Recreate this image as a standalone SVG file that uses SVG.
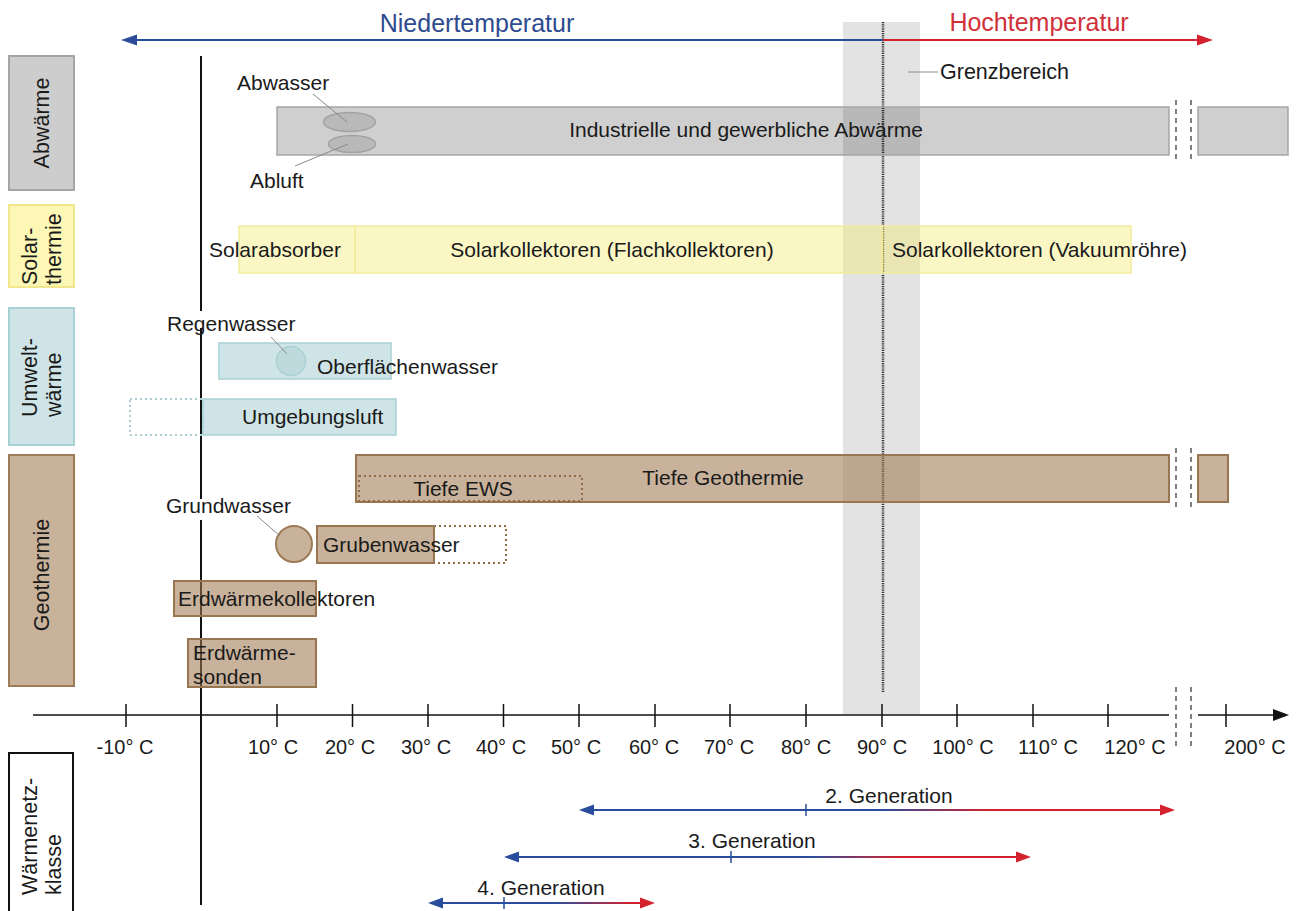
<svg xmlns="http://www.w3.org/2000/svg" width="1296" height="911" viewBox="0 0 1296 911">
<defs>
<style>
text{font-family:"Liberation Sans",Arial,sans-serif;fill:#1a1a1a}
.t{font-size:21px}
.ax{font-size:20px}
.side{font-size:21.5px}
.gen{font-size:21px}
.ab{fill:#000;fill-opacity:0.19;stroke:#a6a6a6;stroke-width:1.5}
.so{fill:#f6ea6e;fill-opacity:0.4;stroke:#f3ec9e;stroke-width:1.5}
.uw{fill:#cfe4e6;stroke:#a9d0d5;stroke-width:1.5}
.ge{fill:#a07850;fill-opacity:0.57;stroke:#987651;stroke-width:2}
.dotU{fill:none;stroke:#a9cdd2;stroke-width:2;stroke-dasharray:2 3}
.dotG{fill:none;stroke:#8f6c47;stroke-width:2;stroke-dasharray:2 3}
.lead{stroke:#8a8a8a;stroke-width:1;fill:none}
.brk{stroke:#555;stroke-width:1.5;stroke-dasharray:5 4}
.tick{stroke:#111;stroke-width:1.5}
</style>
<linearGradient id="g2" gradientUnits="userSpaceOnUse" x1="880" y1="0" x2="990" y2="0"><stop offset="0" stop-color="#2a4c9c"/><stop offset="1" stop-color="#d3222e"/></linearGradient>
<linearGradient id="g3" gradientUnits="userSpaceOnUse" x1="810" y1="0" x2="900" y2="0"><stop offset="0" stop-color="#2a4c9c"/><stop offset="1" stop-color="#d3222e"/></linearGradient>
<linearGradient id="g4" gradientUnits="userSpaceOnUse" x1="555" y1="0" x2="630" y2="0"><stop offset="0" stop-color="#2a4c9c"/><stop offset="1" stop-color="#d3222e"/></linearGradient>
</defs>
<rect width="1296" height="911" fill="#fff"/>

<!-- Grenzbereich band -->
<g id="grenzbereich">
<rect x="843" y="22" width="77" height="692" fill="#e3e3e3"/>
<line x1="883" y1="22" x2="883" y2="692" stroke="#3a3a3a" stroke-width="2.5" stroke-dasharray="1.2 1"/>
<line class="lead" x1="908" y1="72" x2="938" y2="72"/>
<text x="940" y="79" style="font-size:21.5px">Grenzbereich</text>
</g>

<!-- top arrow -->
<g id="temperatur">
<line x1="134" y1="40" x2="883" y2="40" stroke="#2a4c9c" stroke-width="2"/>
<polygon points="121,40 137,34.5 137,45.5" fill="#2a4c9c"/>
<line x1="883" y1="40" x2="1200" y2="40" stroke="#d3222e" stroke-width="2"/>
<polygon points="1213,40 1197,34.5 1197,45.5" fill="#d3222e"/>
<text x="477" y="32" text-anchor="middle" style="font-size:25px;fill:#2e4b8f">Niedertemperatur</text>
<text x="1039" y="31" text-anchor="middle" style="font-size:25px;fill:#d0303a">Hochtemperatur</text>
</g>

<!-- vertical zero line -->
<g id="nulllinie" stroke="#111" stroke-width="2">
<line x1="201" y1="56" x2="201" y2="311"/>
<line x1="201" y1="328" x2="201" y2="499"/>
<line x1="201" y1="520" x2="201" y2="905"/>
</g>

<!-- side labels -->
<g id="label-abwaerme">
<rect x="9" y="56" width="65" height="134" fill="#cdcdcd" stroke="#a5a5a5" stroke-width="2"/>
<text class="side" transform="translate(41.5,123) rotate(-90)" text-anchor="middle" dy="0.36em">Abwärme</text>
</g>
<g id="label-solar">
<rect x="9" y="205" width="65" height="82" fill="#fdf7b5" stroke="#f1e68c" stroke-width="2"/>
<text class="side" transform="translate(37,285) rotate(-90)">Solar-</text>
<text class="side" transform="translate(61,285) rotate(-90)">thermie</text>
</g>
<g id="label-umwelt">
<rect x="9" y="308" width="65" height="137" fill="#cfe4e6" stroke="#a9d0d5" stroke-width="2"/>
<text class="side" transform="translate(37,417) rotate(-90)">Umwelt-</text>
<text class="side" transform="translate(61,417) rotate(-90)">wärme</text>
</g>
<g id="label-geo">
<rect x="9" y="455" width="65" height="231" fill="#c8b29a" stroke="#9c7b56" stroke-width="2"/>
<text class="side" transform="translate(41.5,575) rotate(-90)" text-anchor="middle" dy="0.36em">Geothermie</text>
</g>
<g id="label-netz">
<rect x="9" y="753" width="64" height="170" fill="#fff" stroke="#111" stroke-width="2"/>
<text class="side" transform="translate(37,895) rotate(-90)">Wärmenetz-</text>
<text class="side" transform="translate(61,895) rotate(-90)">klasse</text>
</g>

<!-- Abwärme -->
<g id="abwaerme">
<rect class="ab" x="277" y="107" width="892" height="48"/>
<rect class="ab" x="1198" y="107" width="90" height="48"/>
<line class="brk" x1="1176" y1="100" x2="1176" y2="160"/>
<line class="brk" x1="1191" y1="100" x2="1191" y2="160"/>
<ellipse cx="349.5" cy="122" rx="26" ry="9.5" fill="#b9b9b9" stroke="#a3a3a3" stroke-width="1.5"/>
<ellipse cx="352" cy="144" rx="23.5" ry="8.5" fill="#b9b9b9" stroke="#a3a3a3" stroke-width="1.5"/>
<text class="t" x="746" y="137" text-anchor="middle">Industrielle und gewerbliche Abwärme</text>
</g>
<g id="abwasser">
<line class="lead" x1="313" y1="94" x2="347" y2="122"/>
<text class="t" x="237" y="90">Abwasser</text>
</g>
<g id="abluft">
<line class="lead" x1="295" y1="166" x2="348" y2="144"/>
<text class="t" x="250" y="188">Abluft</text>
</g>

<!-- Solarthermie -->
<g id="solarabsorber">
<rect class="so" x="239" y="226" width="116" height="47"/>
<text class="t" x="209" y="257">Solarabsorber</text>
</g>
<g id="flachkollektoren">
<rect class="so" x="355" y="226" width="527" height="47"/>
<text class="t" x="612" y="257" text-anchor="middle">Solarkollektoren (Flachkollektoren)</text>
</g>
<g id="vakuumroehre">
<rect class="so" x="882" y="226" width="249" height="47"/>
<text class="t" x="892" y="257">Solarkollektoren (Vakuumröhre)</text>
</g>

<!-- Umweltwärme -->
<g id="oberflaechenwasser">
<rect class="uw" x="219" y="343" width="172" height="36"/>
<text class="t" x="317" y="374">Oberflächenwasser</text>
</g>
<g id="regenwasser">
<circle cx="291" cy="361" r="14.5" fill="#bfdadd" stroke="#a9d0d5" stroke-width="1.5"/>
<line class="lead" x1="271" y1="337" x2="287" y2="354"/>
<text class="t" x="167" y="331">Regenwasser</text>
</g>
<g id="umgebungsluft">
<rect class="dotU" x="130" y="399" width="73" height="36"/>
<rect class="uw" x="203" y="399" width="193" height="36"/>
<text class="t" x="242" y="424">Umgebungsluft</text>
</g>

<!-- Geothermie -->
<g id="tiefe-geothermie">
<rect class="ge" x="356" y="455" width="813" height="47"/>
<rect class="ge" x="1198" y="455" width="30" height="47"/>
<line class="brk" x1="1176" y1="448" x2="1176" y2="508"/>
<line class="brk" x1="1191" y1="448" x2="1191" y2="508"/>
<text class="t" x="723" y="485" text-anchor="middle">Tiefe Geothermie</text>
</g>
<g id="tiefe-ews">
<rect class="dotG" x="359" y="476" width="223" height="25"/>
<text class="t" x="463" y="496" text-anchor="middle">Tiefe EWS</text>
</g>
<g id="grundwasser">
<circle cx="294" cy="544" r="18" fill="#c8b29a" stroke="#9c7b56" stroke-width="2"/>
<line class="lead" x1="257" y1="516" x2="280" y2="536"/>
<text class="t" x="166" y="513">Grundwasser</text>
</g>
<g id="grubenwasser">
<rect class="dotG" x="434" y="526" width="72" height="37"/>
<rect class="ge" x="317" y="526" width="117" height="37"/>
<text class="t" x="323" y="552">Grubenwasser</text>
</g>
<g id="erdwaermekollektoren">
<rect class="ge" x="174" y="581" width="142" height="35"/>
<text class="t" x="178" y="606">Erdwärmekollektoren</text>
</g>
<g id="erdwaermesonden">
<rect class="ge" x="188" y="639" width="128" height="48"/>
<text class="t" x="193" y="660">Erdwärme-</text>
<text class="t" x="193" y="684">sonden</text>
</g>

<!-- axis -->
<g id="achse">
<line x1="33" y1="715" x2="1169" y2="715" stroke="#111" stroke-width="1.5"/>
<line x1="1198" y1="715" x2="1276" y2="715" stroke="#111" stroke-width="1.5"/>
<polygon points="1289,715 1273,709 1273,721" fill="#111"/>
<line class="brk" x1="1176" y1="687" x2="1176" y2="750"/>
<line class="brk" x1="1191" y1="687" x2="1191" y2="750"/>
<g class="tick">
<line x1="126" y1="704" x2="126" y2="727"/>
<line x1="277" y1="704" x2="277" y2="727"/>
<line x1="352.5" y1="704" x2="352.5" y2="727"/>
<line x1="428" y1="704" x2="428" y2="727"/>
<line x1="503.5" y1="704" x2="503.5" y2="727"/>
<line x1="579" y1="704" x2="579" y2="727"/>
<line x1="655" y1="704" x2="655" y2="727"/>
<line x1="730" y1="704" x2="730" y2="727"/>
<line x1="806" y1="704" x2="806" y2="727"/>
<line x1="882" y1="704" x2="882" y2="727"/>
<line x1="957" y1="704" x2="957" y2="727"/>
<line x1="1033" y1="704" x2="1033" y2="727"/>
<line x1="1108" y1="704" x2="1108" y2="727"/>
<line x1="1226" y1="704" x2="1226" y2="727"/>
</g>
<g class="ax" text-anchor="middle">
<text class="ax" x="125" y="754">-10° C</text>
<text class="ax" x="273" y="754">10° C</text>
<text class="ax" x="350" y="754">20° C</text>
<text class="ax" x="426" y="754">30° C</text>
<text class="ax" x="501" y="754">40° C</text>
<text class="ax" x="576" y="754">50° C</text>
<text class="ax" x="654" y="754">60° C</text>
<text class="ax" x="729" y="754">70° C</text>
<text class="ax" x="806" y="754">80° C</text>
<text class="ax" x="882" y="754">90° C</text>
<text class="ax" x="963" y="754">100° C</text>
<text class="ax" x="1048" y="754">110° C</text>
<text class="ax" x="1135" y="754">120° C</text>
<text class="ax" x="1255" y="754">200° C</text>
</g>
</g>

<!-- Generations -->
<g id="connectors">
<g id="gen2">
<line x1="590" y1="810" x2="1163" y2="810" stroke="url(#g2)" stroke-width="2"/>
<polygon points="579,810 594,804.5 594,815.5" fill="#2a4c9c"/>
<polygon points="1175,810 1160,804.5 1160,815.5" fill="#d3222e"/>
<line x1="806" y1="804" x2="806" y2="816" stroke="#2a4c9c" stroke-width="1.5"/>
<text class="gen" x="889" y="803" text-anchor="middle">2. Generation</text>
</g>
<g id="gen3">
<line x1="515" y1="857" x2="1020" y2="857" stroke="url(#g3)" stroke-width="2"/>
<polygon points="504,857 519,851.5 519,862.5" fill="#2a4c9c"/>
<polygon points="1031,857 1016,851.5 1016,862.5" fill="#d3222e"/>
<line x1="731" y1="851" x2="731" y2="863" stroke="#2a4c9c" stroke-width="1.5"/>
<text class="gen" x="752" y="848" text-anchor="middle">3. Generation</text>
</g>
<g id="gen4">
<line x1="439" y1="903" x2="644" y2="903" stroke="url(#g4)" stroke-width="2"/>
<polygon points="428,903 443,897.5 443,908.5" fill="#2a4c9c"/>
<polygon points="655,903 640,897.5 640,908.5" fill="#d3222e"/>
<line x1="504" y1="897" x2="504" y2="909" stroke="#2a4c9c" stroke-width="1.5"/>
<text class="gen" x="541" y="895" text-anchor="middle">4. Generation</text>
</g>
</g>
</svg>
